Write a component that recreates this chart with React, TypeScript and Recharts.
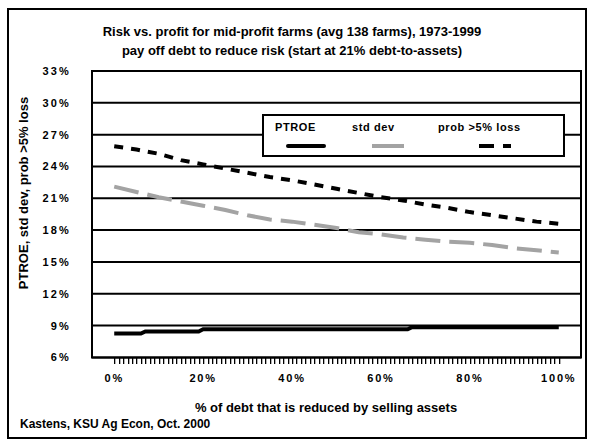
import React from "react";
import { LineChart, Line, XAxis, YAxis, CartesianGrid, ReferenceArea } from "recharts";

// ---- data ----
const debtReduced = [0, 5, 10, 15, 20, 25, 30, 35, 40, 45, 50, 55, 60, 65, 70, 75, 80, 85, 90, 95, 100];
const stdDev = [22.1, 21.6, 21.1, 20.7, 20.3, 19.9, 19.4, 19.0, 18.8, 18.5, 18.2, 17.8, 17.6, 17.3, 17.1, 16.9, 16.8, 16.6, 16.3, 16.1, 15.9];
const probLoss = [25.9, 25.6, 25.2, 24.6, 24.2, 23.8, 23.4, 23.0, 22.7, 22.3, 21.9, 21.5, 21.1, 20.8, 20.4, 20.1, 19.7, 19.4, 19.1, 18.8, 18.6];
const ptroeX = [0, 6, 7, 19, 20, 66, 67, 100];
const ptroeY = [8.25, 8.25, 8.45, 8.45, 8.65, 8.65, 8.85, 8.85];
const yTicks = [6, 9, 12, 15, 18, 21, 24, 27, 30, 33];
const xLabelTicks = [0, 20, 40, 60, 80, 100];
const xMinorTicks = Array.from({ length: 101 }, (_, i) => i);

const titleLines = [
  "Risk vs. profit for mid-profit farms (avg 138 farms), 1973-1999",
  "pay off debt to reduce risk (start at 21% debt-to-assets)",
];
const seriesNames = ["PTROE", "std dev", "prob >5% loss"];
const xTitle = "% of debt that is reduced by selling assets";
const yTitle = "PTROE, std dev, prob >5% loss";
const footer = "Kastens, KSU Ag Econ, Oct. 2000";

const riskData = debtReduced.map((x, i) => ({ x, std: stdDev[i], prob: probLoss[i] }));
const ptroeData = ptroeX.map((x, i) => ({ x, ptroe: ptroeY[i] }));

const FONT = "'Liberation Sans', Arial, sans-serif";
const GRAY = "#a3a3a3";

// ticks drawn upward from the (hidden) x axis, which sits 6px below the plot frame
const XTick = (props: any) => {
  const { x, y, payload } = props;
  const isLabel = xLabelTicks.includes(payload.value);
  return (
    <g>
      <rect x={Math.round(x)} y={y - 6} width={1.3} height={6} fill="#000" />
      {isLabel && (
        <text x={x} y={y + 18} textAnchor="middle" fontFamily={FONT} fontWeight="bold" fontSize={11} letterSpacing={1.8} fill="#000">
          {payload.value}%
        </text>
      )}
    </g>
  );
};

const YTick = (props: any) => {
  const { x, y, payload } = props;
  if (payload.value < 6) return null;
  return (
    <text x={x - 19} y={y + 4} textAnchor="end" fontFamily={FONT} fontWeight="bold" fontSize={11} letterSpacing={2.2} fill="#000">
      {payload.value}%
    </text>
  );
};

const LegendBox = () => (
  <div style={{ position: "absolute", left: 262, top: 114, width: 303, height: 43, border: "2px solid #000", background: "#fff", boxSizing: "border-box" }}>
    <svg width={299} height={39} style={{ display: "block" }}>
      <g fontFamily={FONT} fontWeight="bold" fontSize={11} letterSpacing={0.6} fill="#000">
        <text x={11} y={15}>{seriesNames[0]}</text>
        <text x={88} y={15}>{seriesNames[1]}</text>
        <text x={174} y={15}>{seriesNames[2]}</text>
      </g>
      <line x1={24} x2={60} y1={30} y2={30} stroke="#000" strokeWidth={4} strokeLinecap="round" />
      <line x1={108} x2={140} y1={30} y2={30} stroke={GRAY} strokeWidth={4} />
      <line x1={215} x2={247} y1={30} y2={30} stroke="#000" strokeWidth={4} strokeDasharray="15 9 8" />
    </svg>
  </div>
);

export default function App() {
  return (
    <div style={{ position: "absolute", left: 0, top: 0, width: 594, height: 443, background: "#fff", fontFamily: FONT }}>
      <div style={{ position: "absolute", left: 7, top: 8, width: 580, height: 431, border: "2px solid #000", boxSizing: "border-box" }} />
      {titleLines.map((t, i) => (
        <div key={i} style={{ position: "absolute", left: 92, width: 400, top: 24 + i * 19, textAlign: "center", fontWeight: "bold", fontSize: 13, whiteSpace: "nowrap" }}>
          {t}
        </div>
      ))}
      <div style={{ position: "absolute", left: 0, top: 0 }}>
        <LineChart width={594} height={443} data={riskData} margin={{ top: 71, right: 13, bottom: 49, left: 32 }}>
          <CartesianGrid horizontal vertical={false} stroke="#000" strokeWidth={2} horizontalValues={yTicks} />
          <ReferenceArea x1={-5} x2={105} y1={6} y2={33} fill="none" stroke="#000" strokeWidth={2} ifOverflow="visible" />
          <XAxis
            dataKey="x"
            type="number"
            domain={[-5, 105]}
            ticks={xMinorTicks}
            interval={0}
            minTickGap={0}
            tick={<XTick />}
            tickLine={false}
            tickSize={0}
            tickMargin={0}
            axisLine={false}
            height={30}
          />
          <YAxis
            type="number"
            domain={[5.38, 33]}
            ticks={yTicks}
            interval={0}
            tick={<YTick />}
            tickLine={false}
            tickSize={0}
            axisLine={false}
            width={60}
            allowDataOverflow
          />
          <Line data={ptroeData} dataKey="ptroe" name={seriesNames[0]} stroke="#000" strokeWidth={4} dot={false} isAnimationActive={false} />
          <Line dataKey="std" name={seriesNames[1]} stroke={GRAY} strokeWidth={4} strokeDasharray="25 9" dot={false} isAnimationActive={false} />
          <Line dataKey="prob" name={seriesNames[2]} stroke="#000" strokeWidth={4} strokeDasharray="9 8" dot={false} isAnimationActive={false} />
        </LineChart>
      </div>
      <LegendBox />
      <svg width={594} height={443} style={{ position: "absolute", left: 0, top: 0, pointerEvents: "none" }}>
        <text x={28} y={193} transform="rotate(-90 28 193)" textAnchor="middle" fontFamily={FONT} fontWeight="bold" fontSize={13} fill="#000">
          {yTitle}
        </text>
        <text x={326} y={412} textAnchor="middle" fontFamily={FONT} fontWeight="bold" fontSize={13} fill="#000">
          {xTitle}
        </text>
        <text x={20} y={428} fontFamily={FONT} fontWeight="bold" fontSize={12} fill="#000">
          {footer}
        </text>
      </svg>
    </div>
  );
}
